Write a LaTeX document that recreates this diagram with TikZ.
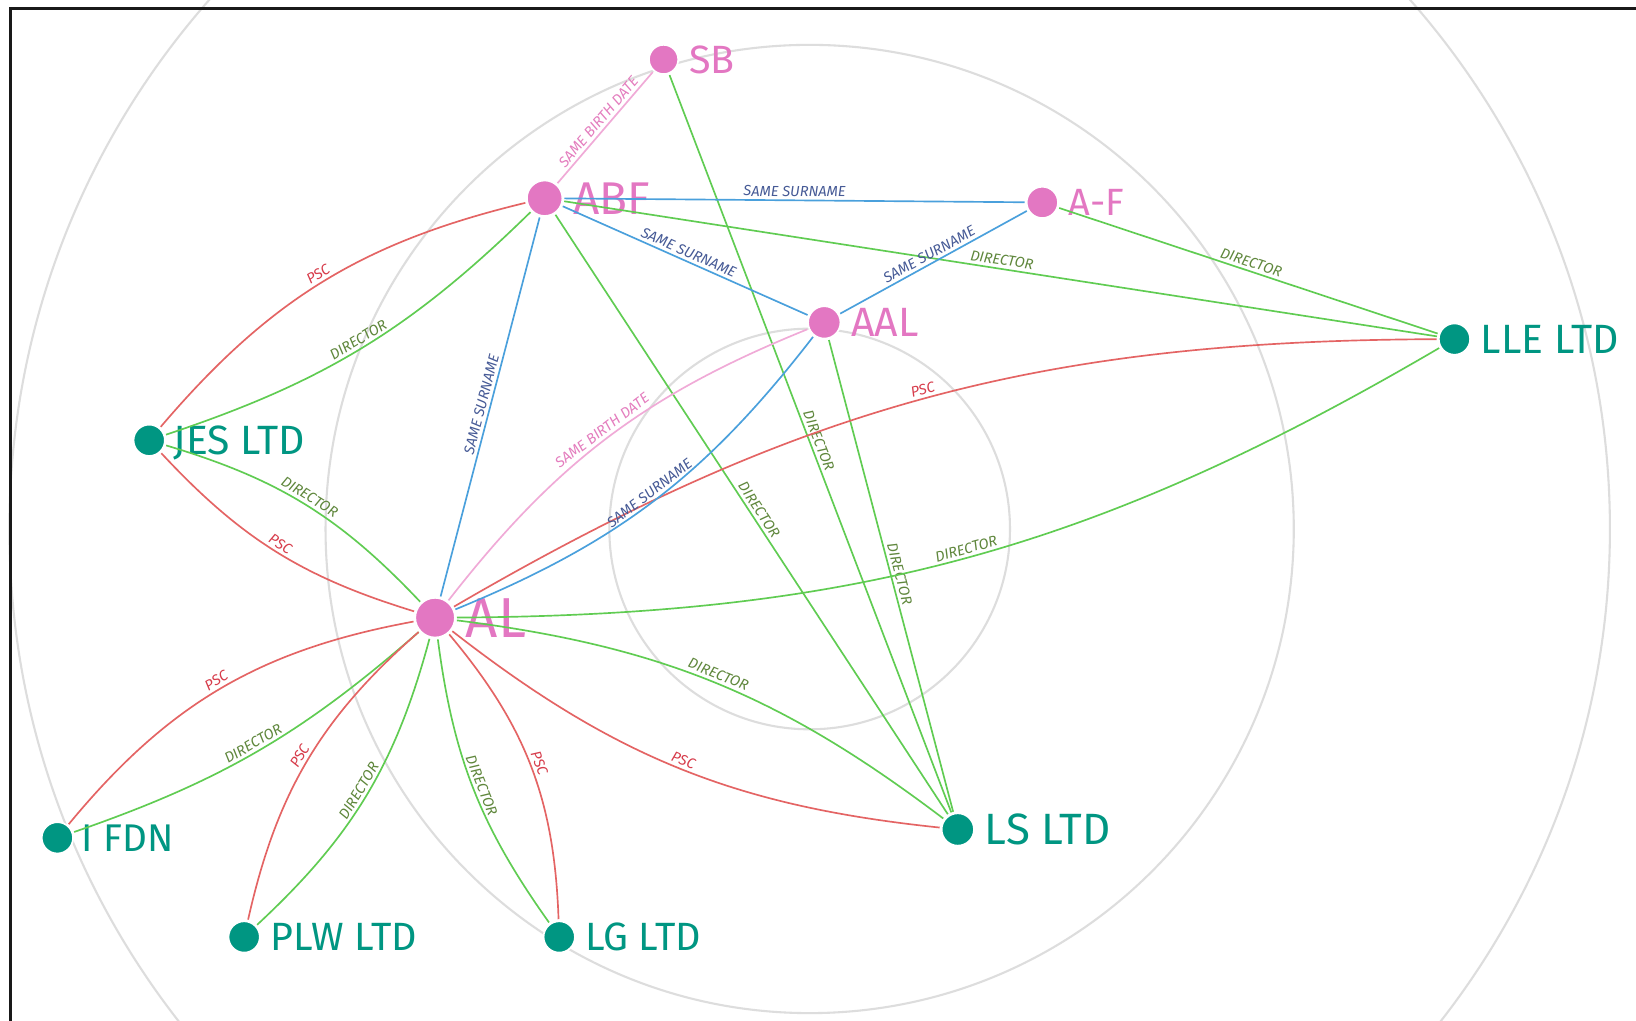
\documentclass[tikz,border=0pt]{standalone}
\usepackage{fontspec}
\newfontfamily\nodefont{Fira Sans}
\newfontfamily\lblfont{Fira Sans}
\definecolor{pinkc}{RGB}{227,119,194}
\definecolor{tealc}{RGB}{0,150,130}
\definecolor{ringc}{RGB}{221,221,221}
\definecolor{dirgreen}{RGB}{96,204,82}
\definecolor{pscred}{RGB}{228,100,100}
\definecolor{surblue}{RGB}{74,160,220}
\definecolor{bdpink}{RGB}{240,170,215}
\definecolor{dirtext}{RGB}{95,135,60}
\definecolor{psctext}{RGB}{215,60,75}
\definecolor{surtext}{RGB}{70,90,150}
\definecolor{bdtext}{RGB}{228,125,190}
\tikzset{
  ring/.style={draw=ringc, line width=1pt},
  pn/.style={circle, fill=pinkc, draw=white, line width=0.8pt, inner sep=0pt, outer sep=1pt},
  tn/.style={circle, fill=tealc, draw=white, line width=0.8pt, inner sep=0pt, outer sep=1pt, minimum size=15pt},
  nlab/.style={anchor=west, inner sep=0pt, text depth=0pt},
  plab/.style={nlab, text=pinkc},
  tlab/.style={nlab, text=tealc},
  lnk/.style={line width=0.8pt},
  dir/.style={lnk, draw=dirgreen},
  psc/.style={lnk, draw=pscred},
  sur/.style={lnk, draw=surblue},
  bd/.style={lnk, draw=bdpink},
  elab/.style={font=\lblfont\itshape\fontsize{7}{8}\selectfont, sloped, pos=0.5, above=0.4pt, inner sep=1pt},
  dl/.style={elab, text=dirtext},
  pl/.style={elab, text=psctext},
  sl/.style={elab, text=surtext},
  bl/.style={elab, text=bdtext},
}
\newcommand{\nf}[1]{\nodefont\fontsize{#1}{#1}\selectfont}
\begin{document}
\begin{tikzpicture}[x=0.5pt,y=-0.5pt]
\useasboundingbox (0,0) rectangle (1568,978);
\clip (0,0) rectangle (1568,978);
\fill[white] (0,0) rectangle (1568,978);
% rings
\draw[ring] (776,507) circle[radius=192];
\draw[ring] (776,507) circle[radius=464];
\draw[ring] (776,507) circle[radius=767];
% frame
\draw[line width=1.3pt, black!90] (10,1000) -- (10,8) -- (1600,8);

% nodes
\node[pn, minimum size=14pt] (SB) at (636,57) {};
\node[plab, font=\nf{18.9}] (SBl) at ([xshift=4pt]SB.east) {SB};
\node[pn, minimum size=17pt] (ABF) at (522,190) {};
\node[plab, font=\nf{22}] (ABFl) at ([xshift=4pt]ABF.east) {ABF};
\node[pn, minimum size=15pt] (AF) at (999,194) {};
\node[plab, font=\nf{18.2}] (AFl) at ([xshift=4pt]AF.east) {A-F};
\node[pn, minimum size=15.5pt] (AAL) at (790,309) {};
\node[plab, font=\nf{19.6}] (AALl) at ([xshift=4pt]AAL.east) {AAL};
\node[pn, minimum size=19pt] (AL) at (417,592) {};
\node[plab, font=\nf{27}] (ALl) at ([xshift=4pt]AL.east) {AL};

\node[tn] (JES) at (143,422) {};
\node[tlab, font=\nf{19.6}] (JESl) at ([xshift=3pt]JES.east) {JES LTD};
\node[tn] (LLE) at (1394,325) {};
\node[tlab, font=\nf{19.6}] (LLEl) at ([xshift=4pt]LLE.east) {LLE LTD};
\node[tn] (IF) at (55,803) {};
\node[tlab, font=\nf{18.5}] (IFl) at ([xshift=3pt]IF.east) {I FDN};
\node[tn] (PLW) at (234,898) {};
\node[tlab, font=\nf{18.9}] (PLWl) at ([xshift=4pt]PLW.east) {PLW LTD};
\node[tn] (LG) at (536,898) {};
\node[tlab, font=\nf{18.9}] (LGl) at ([xshift=4pt]LG.east) {LG LTD};
\node[tn, minimum size=15.5pt] (LS) at (918,795) {};
\node[tlab, font=\nf{21}] (LSl) at ([xshift=4pt]LS.east) {LS LTD};

% straight links
\draw[bd] (SB) -- node[bl]{SAME BIRTH DATE} (ABF);
\draw[dir] (SB) -- node[dl]{DIRECTOR} (LS);
\draw[sur] (ABF) -- node[sl]{SAME SURNAME} (AF);
\draw[sur] (ABF) -- node[sl]{SAME SURNAME} (AAL);
\draw[dir] (ABF) -- node[dl]{DIRECTOR} (LLE);
\draw[sur] (ABF) -- node[sl]{SAME SURNAME} (AL);
\draw[dir] (ABF) -- node[dl]{DIRECTOR} (LS);
\draw[sur] (AF) -- node[sl]{SAME SURNAME} (AAL);
\draw[dir] (AF) -- node[dl]{DIRECTOR} (LLE);
\draw[dir] (AAL) -- node[dl]{DIRECTOR} (LS);

% curved links
\draw[psc] (JES) to[bend left=18] node[pl]{PSC} (ABF);
\draw[dir] (JES) to[bend right=13] node[dl]{DIRECTOR} (ABF);
\draw[dir] (AL) to[bend right=15] node[dl]{DIRECTOR} (JES);
\draw[psc] (AL) to[bend left=15] node[pl]{PSC} (JES);
\draw[psc] (AL) to[bend right=20] node[pl]{PSC} (IF);
\draw[dir] (AL) to[bend left=11] node[dl]{DIRECTOR} (IF);
\draw[psc] (AL) to[bend right=18] node[pl]{PSC} (PLW);
\draw[dir] (AL) to[bend left=16] node[dl]{DIRECTOR} (PLW);
\draw[psc] (AL) to[bend left=19] node[pl]{PSC} (LG);
\draw[dir] (AL) to[bend right=14] node[dl]{DIRECTOR} (LG);
\draw[dir] (AL) to[bend left=15] node[dl]{DIRECTOR} (LS);
\draw[psc] (AL) to[bend right=16] node[pl]{PSC} (LS);
\draw[psc] (AL) to[bend left=15] node[pl]{PSC} (LLE);
\draw[dir] (AL) to[bend right=15] node[dl]{DIRECTOR} (LLE);
\draw[bd] (AL) to[bend left=15] node[bl]{SAME BIRTH DATE} (AAL);
\draw[sur] (AL) to[bend right=15] node[sl]{SAME SURNAME} (AAL);
\end{tikzpicture}
\end{document}
